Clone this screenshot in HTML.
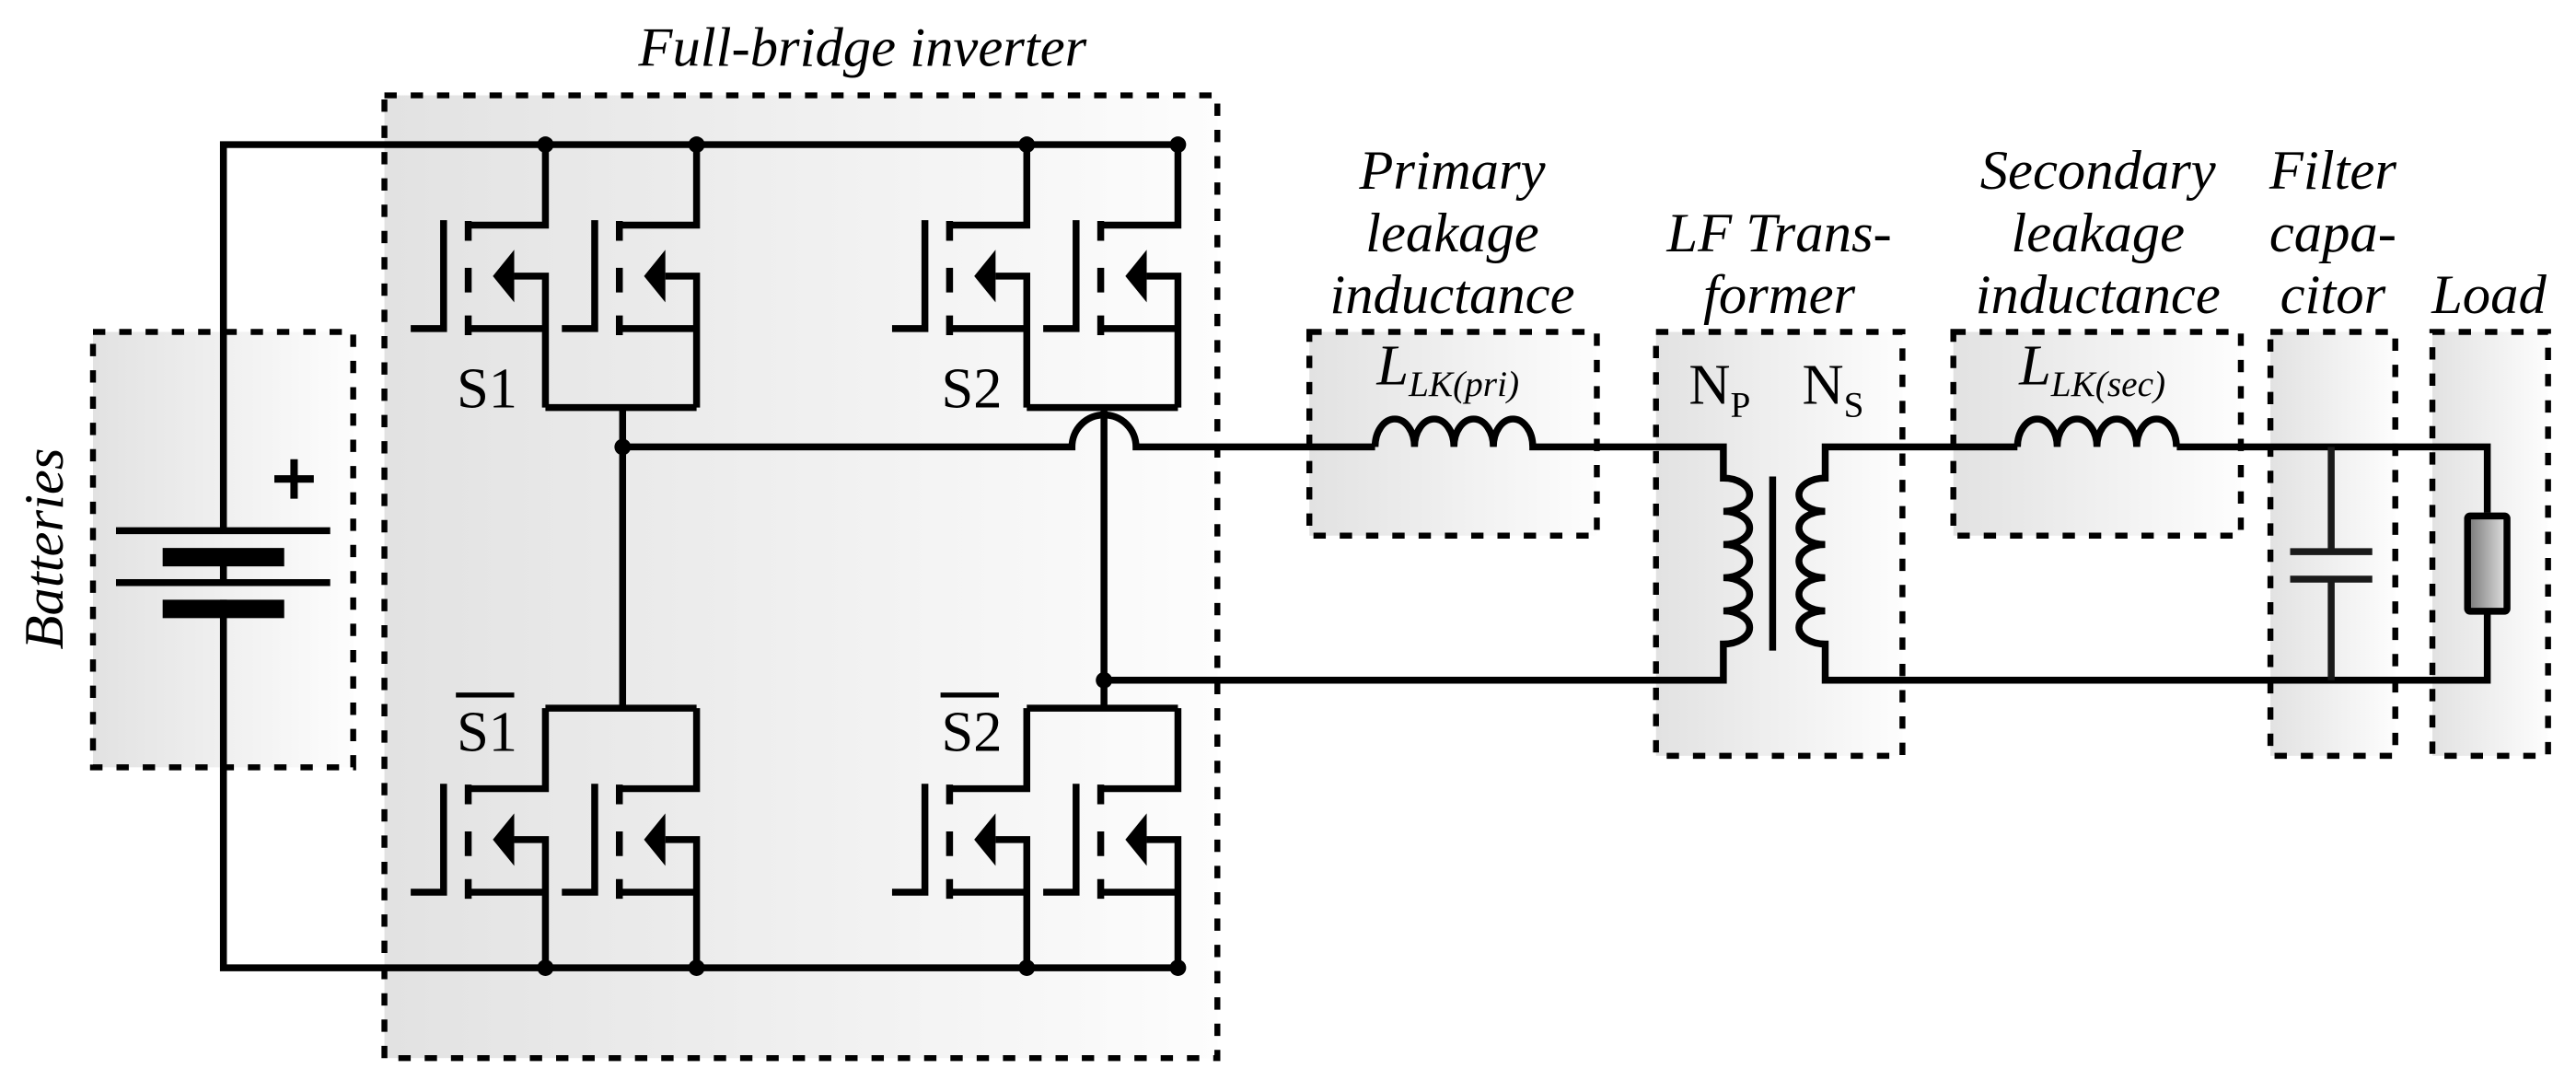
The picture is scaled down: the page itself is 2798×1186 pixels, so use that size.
<!DOCTYPE html>
<html><head><meta charset="utf-8"><style>
html,body{margin:0;padding:0;background:#fff;}
svg{display:block;}
text{font-family:"Liberation Serif","Times New Roman","DejaVu Serif",serif;fill:#000;}
.lbl{font-style:italic;font-size:34px;text-anchor:middle;}
</style></head><body>
<svg width="2798" height="1186" viewBox="0 0 1568 664.6" xmlns="http://www.w3.org/2000/svg" font-family="Liberation Serif, DejaVu Serif, serif">
<defs>
<linearGradient id="g" x1="0" y1="0" x2="1" y2="0">
<stop offset="0" stop-color="#e2e2e2"/><stop offset="1" stop-color="#fdfdfd"/></linearGradient>
<linearGradient id="r" x1="0" y1="0" x2="1" y2="0">
<stop offset="0" stop-color="#777"/><stop offset="1" stop-color="#e2e2e2"/></linearGradient>
</defs>
<g stroke="#000" stroke-width="3.6" stroke-dasharray="7.5 8.5" fill="url(#g)">
<rect x="56.6" y="202" width="158.4" height="265"/>
<rect x="234" y="58" width="507" height="586"/>
<rect x="797" y="202" width="175" height="124"/>
<rect x="1008" y="202" width="150" height="258"/>
<rect x="1189" y="202" width="175" height="124"/>
<rect x="1382" y="202" width="76" height="258"/>
<rect x="1480.6" y="202" width="70.4" height="258"/>
</g>
<g stroke="#000" stroke-width="4.2" fill="none" stroke-linejoin="miter">
<path d="M136 323 V88 H717 M136 365 V589 H717"/>
<path d="M70.6 323 H201 M70.6 354.6 H201 M136 344 V355"/>
<path d="M179 279.5 v24 M167 291.5 h24" stroke-width="4.5"/>
<path d="M332 248 H424 M379 248 V431 M332 431 H424"/>
<path d="M625 248 H717 M672 248 V431 M625 431 H717"/>
<path d="M379 272 H652.5 A19.5 19.5 0 0 1 691.5 272 H837"/>
<path d="M837 272 a12 17 0 0 1 24 0 a12 17 0 0 1 24 0 a12 17 0 0 1 24 0 a12 17 0 0 1 24 0 H1049 V291 a16 10.1 0 0 1 0 20.2 a16 10.1 0 0 1 0 20.2 a16 10.1 0 0 1 0 20.2 a16 10.1 0 0 1 0 20.2 a16 10.1 0 0 1 0 20.2 V414 H672"/>
<path d="M1079 290 V396"/>
<path d="M1514 312 V272 H1325 M1228 272 H1111 V291 a16 10.1 0 0 0 0 20.2 a16 10.1 0 0 0 0 20.2 a16 10.1 0 0 0 0 20.2 a16 10.1 0 0 0 0 20.2 a16 10.1 0 0 0 0 20.2 V414 H1514 V374"/>
<path d="M1228 272 a12.1 17 0 0 1 24.2 0 a12.1 17 0 0 1 24.2 0 a12.1 17 0 0 1 24.2 0 a12.1 17 0 0 1 24.2 0"/>
<path d="M1419 272 V335.7 M1419 352.5 V414 M1394 335.7 H1444 M1394 352.5 H1444" stroke="#1a1a1a"/>
</g>
<rect x="99" y="333.5" width="74" height="11.2"/>
<rect x="99" y="365" width="74" height="11.2"/>
<rect x="1502" y="314" width="24" height="58" fill="url(#r)" stroke="#000" stroke-width="4.2" rx="1.5"/>
<g fill="#000">
<circle cx="332" cy="88" r="5"/><circle cx="424" cy="88" r="5"/><circle cx="625" cy="88" r="5"/><circle cx="717" cy="88" r="5"/>
<circle cx="332" cy="589" r="5"/><circle cx="424" cy="589" r="5"/><circle cx="625" cy="589" r="5"/><circle cx="717" cy="589" r="5"/>
<circle cx="379" cy="272" r="5"/><circle cx="672" cy="414" r="5"/>
</g>
<g stroke="#000" stroke-width="4.2" fill="none">
<path d="M270 134 V200 H250 M285 134.5 V146.5 M285 163 V178 M285 192 V204 M285 137 H332 V88 M285 200 H332 M313 168 H332 V248"/>
<path d="M362 134 V200 H342 M377 134.5 V146.5 M377 163 V178 M377 192 V204 M377 137 H424 V88 M377 200 H424 M405 168 H424 V248"/>
<path d="M563 134 V200 H543 M578 134.5 V146.5 M578 163 V178 M578 192 V204 M578 137 H625 V88 M578 200 H625 M606 168 H625 V248"/>
<path d="M655 134 V200 H635 M670 134.5 V146.5 M670 163 V178 M670 192 V204 M670 137 H717 V88 M670 200 H717 M698 168 H717 V248"/>
<path d="M270 477 V543 H250 M285 477.5 V489.5 M285 506 V521 M285 535 V547 M285 480 H332 V431 M285 543 H332 M313 511 H332 V589"/>
<path d="M362 477 V543 H342 M377 477.5 V489.5 M377 506 V521 M377 535 V547 M377 480 H424 V431 M377 543 H424 M405 511 H424 V589"/>
<path d="M563 477 V543 H543 M578 477.5 V489.5 M578 506 V521 M578 535 V547 M578 480 H625 V431 M578 543 H625 M606 511 H625 V589"/>
<path d="M655 477 V543 H635 M670 477.5 V489.5 M670 506 V521 M670 535 V547 M670 480 H717 V431 M670 543 H717 M698 511 H717 V589"/>
</g>
<g fill="#000">
<polygon points="300,168 313,152 313,184"/><polygon points="392,168 405,152 405,184"/>
<polygon points="593,168 606,152 606,184"/><polygon points="685,168 698,152 698,184"/>
<polygon points="300,511 313,495 313,527"/><polygon points="392,511 405,495 405,527"/>
<polygon points="593,511 606,495 606,527"/><polygon points="685,511 698,495 698,527"/>
</g>
<g font-size="35">
<text x="278" y="248">S1</text>
<text x="573" y="248">S2</text>
<text x="278" y="457">S1</text>
<text x="573" y="457">S2</text>
</g>
<rect x="277.5" y="421.5" width="35.5" height="3"/>
<rect x="572.5" y="421.5" width="35.5" height="3"/>
<text class="lbl" x="525" y="40">Full-bridge inverter</text>
<text class="lbl" transform="translate(38 334) rotate(-90)">Batteries</text>
<text class="lbl" x="884" y="115">Primary</text>
<text class="lbl" x="884" y="153">leakage</text>
<text class="lbl" x="884" y="190.5">inductance</text>
<text class="lbl" x="1083" y="153">LF Trans-</text>
<text class="lbl" x="1083" y="190.5">former</text>
<text class="lbl" x="1277" y="115">Secondary</text>
<text class="lbl" x="1277" y="153">leakage</text>
<text class="lbl" x="1277" y="190.5">inductance</text>
<text class="lbl" x="1420" y="115">Filter</text>
<text class="lbl" x="1420" y="153">capa-</text>
<text class="lbl" x="1420" y="190.5">citor</text>
<text class="lbl" x="1515" y="190.5">Load</text>
<text x="838" y="234" font-size="35" font-style="italic">L<tspan font-size="22" dy="7">LK(pri)</tspan></text>
<text x="1229" y="234" font-size="35" font-style="italic">L<tspan font-size="22" dy="7">LK(sec)</tspan></text>
<text x="1028" y="245.6" font-size="35">N<tspan font-size="22" dy="8">P</tspan></text>
<text x="1097" y="245.6" font-size="35">N<tspan font-size="22" dy="8">S</tspan></text>
</svg>
</body></html>
